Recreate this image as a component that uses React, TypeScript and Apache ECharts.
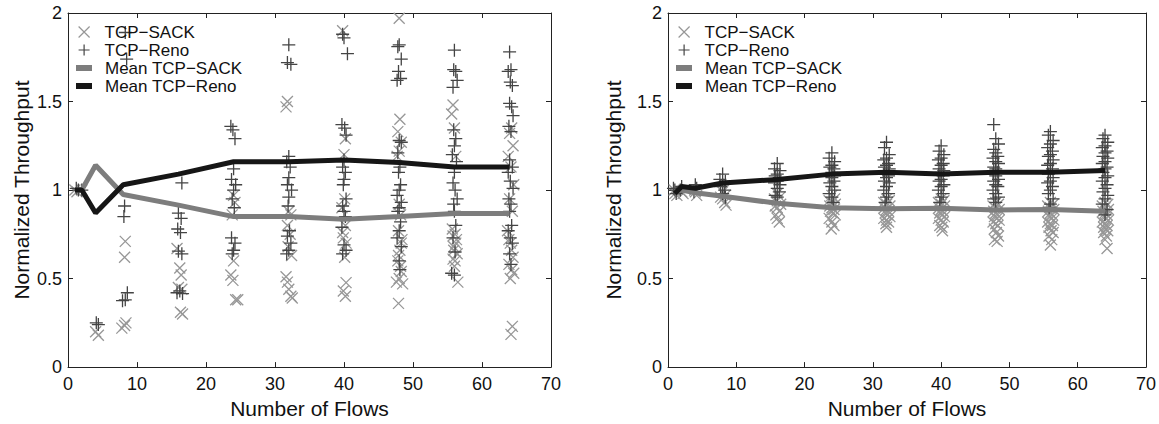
import React, { useEffect, useRef } from 'react';
import * as echarts from 'echarts';

const FONT = '"Liberation Sans", Arial, Helvetica, sans-serif';

const SACK = 'TCP\u2212SACK';
const RENO = 'TCP\u2212Reno';
const MEAN_SACK = 'Mean TCP\u2212SACK';
const MEAN_RENO = 'Mean TCP\u2212Reno';

const X_TITLE = 'Number of Flows';
const Y_TITLE = 'Normalized Throughput';

// mean curves
const meanFlows = [1, 2, 4, 8, 16, 24, 32, 40, 48, 56, 64];
const meanSackLeft = [1.0, 1.0, 1.14, 0.975, 0.915, 0.85, 0.85, 0.835, 0.85, 0.868, 0.868];
const meanRenoLeft = [1.0, 1.0, 0.87, 1.03, 1.09, 1.16, 1.16, 1.17, 1.155, 1.13, 1.13];
const meanSackRight = [0.99, 1.0, 0.985, 0.965, 0.925, 0.9, 0.895, 0.897, 0.887, 0.89, 0.88];
const meanRenoRight = [0.98, 1.02, 1.01, 1.04, 1.06, 1.09, 1.1, 1.09, 1.1, 1.1, 1.11];

// individual flows, left panel: [flows, normalized throughput]
const sackLeft = [
  [1, 1.0], [1.3, 0.99], [2, 1.0],
  [4, 0.2], [4.4, 0.18],
  [8.3, 0.71], [8.2, 0.62], [7.8, 0.22], [8.4, 0.25], [8.2, 0.235],
  [15.8, 0.67], [16.2, 0.56], [16.4, 0.52], [16, 0.45], [16.5, 0.44], [16.3, 0.31], [16.6, 0.3],
  [24.2, 0.93], [23.8, 0.86], [24, 0.6], [23.6, 0.52], [23.9, 0.49], [24.3, 0.38], [24.6, 0.38], [24, 0.97],
  [31.8, 1.5], [31.6, 1.47], [32, 0.88], [32.3, 0.86], [31.8, 0.8], [32.2, 0.75], [31.9, 0.68], [32.4, 0.63],
  [31.6, 0.51], [31.8, 0.48], [32, 0.44], [32.3, 0.4], [32.5, 0.39],
  [39.8, 1.9], [40.2, 1.29], [40, 1.2], [39.9, 0.73], [40.3, 0.7], [40.1, 0.62], [40.3, 0.477], [39.9, 0.43],
  [40.2, 0.4], [40.1, 0.95], [39.7, 0.9], [40.2, 0.8], [39.8, 0.76],
  [48, 1.97], [48.1, 1.4], [47.8, 1.33], [48.3, 1.27], [48, 1.22], [47.7, 1.19], [48.2, 0.86], [47.9, 0.77],
  [48.4, 0.72], [48.1, 0.66], [47.8, 0.6], [48.3, 0.54], [48, 0.5], [47.6, 0.48], [48.5, 0.47], [47.9, 0.36],
  [48, 0.92], [48.3, 0.7], [47.9, 0.63], [48.2, 0.57],
  [55.8, 1.48], [55.6, 1.43], [56, 1.35], [56.2, 1.19], [55.7, 0.78], [56.1, 0.75], [56.3, 0.72], [55.9, 0.68],
  [56.4, 0.64], [55.8, 0.61], [56, 0.57], [56.5, 0.48], [56.2, 0.7], [55.9, 0.66], [56.1, 0.6], [55.8, 0.74],
  [64.3, 1.35], [64, 1.32], [64.5, 1.25], [63.8, 1.19], [64.2, 1.13], [64.6, 1.03], [64, 0.95], [64.4, 0.88],
  [63.7, 0.77], [64.1, 0.7], [64.5, 0.62], [63.9, 0.58], [64.3, 0.55], [64.6, 0.53], [64.1, 0.5], [64.4, 0.23],
  [64.2, 0.185], [64.3, 0.66], [63.9, 0.72]
];
const renoLeft = [
  [1.2, 1.01], [1.5, 1.0], [2, 1.0],
  [4.1, 0.25], [4.4, 0.24],
  [8.3, 1.89], [8.5, 1.74], [8.2, 0.91], [8.1, 0.85], [8.6, 0.42], [8.3, 0.38], [7.9, 0.375],
  [16.5, 1.04], [16, 0.87], [16.4, 0.84], [15.9, 0.78], [16.3, 0.76], [16, 0.655], [16.5, 0.64], [16.2, 0.43],
  [15.8, 0.42], [16.6, 0.415],
  [23.6, 1.36], [23.9, 1.34], [24.2, 1.29], [24, 1.12], [23.7, 1.06], [24.3, 1.03], [24, 1.0], [23.8, 0.95],
  [24.1, 0.9], [23.7, 0.73], [24.2, 0.7], [24, 0.66], [23.8, 0.64],
  [32, 1.82], [31.8, 1.72], [32.3, 1.71], [32, 1.19], [31.7, 1.16], [32.2, 1.13], [32, 1.07], [31.8, 1.03],
  [32.4, 1.0], [32, 0.96], [31.9, 0.91], [32.1, 0.77], [31.8, 0.74], [32.3, 0.7], [32, 0.66], [31.7, 0.64],
  [39.8, 1.88], [40, 1.86], [40.5, 1.77], [39.7, 1.37], [40.1, 1.35], [40.3, 1.31], [40, 1.17], [39.8, 1.13],
  [40.2, 1.1], [40, 1.06], [39.9, 1.03], [40.3, 0.95], [39.8, 0.91], [40, 0.88], [40.2, 0.85], [39.7, 0.79],
  [40, 0.69], [40.3, 0.66], [39.8, 0.64],
  [48, 1.82], [47.8, 1.81], [48.3, 1.74], [47.9, 1.67], [48.2, 1.63], [47.7, 1.62], [48, 1.28], [48.3, 1.27],
  [47.8, 1.21], [48.1, 1.13], [47.9, 1.1], [48.2, 1.03], [48, 1.0], [47.7, 0.97], [48.3, 0.93], [48, 0.9],
  [47.8, 0.88], [48.2, 0.82], [48, 0.77], [47.7, 0.73], [48.3, 0.68], [48, 0.6], [48.1, 0.55],
  [56, 1.79], [55.9, 1.68], [56.2, 1.67], [56.4, 1.62], [55.8, 1.58], [55.9, 1.34], [56.2, 1.29], [56, 1.25],
  [55.7, 1.2], [56.3, 1.16], [56, 1.1], [55.8, 1.04], [56.1, 1.0], [56.4, 0.95], [55.9, 0.92], [56, 0.88],
  [56.2, 0.8], [55.8, 0.73], [56.1, 0.65], [55.6, 0.53], [56, 0.52],
  [64, 1.78], [64.2, 1.68], [63.8, 1.67], [64.1, 1.61], [64.4, 1.59], [64, 1.49], [64.3, 1.47], [64.5, 1.42],
  [63.9, 1.36], [64.2, 1.33], [64, 1.17], [64.4, 1.13], [63.8, 1.1], [64.1, 1.05], [64.5, 1.01], [63.9, 0.95],
  [64.2, 0.92], [64, 0.88], [64.3, 0.8], [63.8, 0.77], [64.1, 0.73], [64.4, 0.7], [64, 0.64], [64.2, 0.58]
];

// individual flows, right panel
const sackRight = [
  [1, 0.98], [1.3, 0.97], [0.9, 1.0], [2, 0.99], [2.2, 0.98],
  [4, 0.99], [4.2, 0.97], [3.9, 1.0],
  [8, 0.99], [8.4, 0.97], [7.7, 0.96], [8, 0.95], [8.3, 0.93], [8.5, 0.915],
  [16, 0.98], [16.4, 0.96], [15.6, 0.95], [16, 0.94], [16.5, 0.92], [15.7, 0.91], [16, 0.9], [16.3, 0.88],
  [15.8, 0.86], [16, 0.84], [16.3, 0.82],
  [24, 0.97], [24.4, 0.95], [23.6, 0.94], [24, 0.93], [24.5, 0.92], [23.7, 0.91], [24, 0.9], [24.3, 0.89],
  [23.8, 0.88], [24.2, 0.87], [24.5, 0.86], [23.6, 0.84], [24, 0.82], [24.3, 0.8], [23.9, 0.78],
  [32, 0.95], [32.4, 0.94], [31.6, 0.93], [32, 0.92], [32.5, 0.91], [31.7, 0.9], [32, 0.89], [32.3, 0.88],
  [31.8, 0.87], [32.2, 0.86], [32.5, 0.85], [31.6, 0.84], [32, 0.83], [32.3, 0.82], [31.9, 0.81], [32, 0.79],
  [40, 0.95], [40.4, 0.94], [39.6, 0.93], [40, 0.92], [40.5, 0.91], [39.7, 0.9], [40, 0.89], [40.3, 0.88],
  [39.8, 0.87], [40.2, 0.86], [40.5, 0.85], [39.6, 0.84], [40, 0.83], [40.3, 0.82], [39.8, 0.8], [40.1, 0.79],
  [40.2, 0.77],
  [48, 0.93], [48.4, 0.92], [47.6, 0.91], [48, 0.9], [48.5, 0.89], [47.7, 0.88], [48, 0.87], [48.3, 0.86],
  [47.8, 0.85], [48.2, 0.84], [48.5, 0.83], [47.6, 0.82], [48, 0.81], [48.3, 0.8], [47.8, 0.78], [48.1, 0.76],
  [48.4, 0.74], [47.8, 0.72], [48.2, 0.71],
  [56, 0.93], [56.4, 0.92], [55.6, 0.91], [56, 0.9], [56.5, 0.89], [55.7, 0.88], [56, 0.87], [56.3, 0.86],
  [55.8, 0.85], [56.2, 0.84], [56.5, 0.83], [55.6, 0.82], [56, 0.81], [56.3, 0.8], [55.8, 0.79], [56.1, 0.77],
  [56.4, 0.76], [55.8, 0.74], [56.2, 0.72], [56, 0.69],
  [64, 0.93], [64.4, 0.92], [63.6, 0.91], [64, 0.9], [64.5, 0.89], [63.7, 0.88], [64, 0.87], [64.3, 0.86],
  [63.8, 0.85], [64.2, 0.84], [64.5, 0.83], [63.6, 0.82], [64, 0.81], [64.3, 0.8], [63.8, 0.79], [64.1, 0.78],
  [64.4, 0.77], [63.8, 0.76], [64.2, 0.74], [64, 0.72], [64.3, 0.67]
];
const renoRight = [
  [1, 1.0], [1.2, 0.98], [0.8, 1.01], [2, 1.02], [1.8, 1.0],
  [4, 1.03], [4.2, 1.01], [3.8, 0.99],
  [8, 1.09], [7.6, 1.06], [8.4, 1.05], [8, 1.03], [7.7, 1.02], [8.3, 1.0], [8, 0.98], [8.4, 0.96],
  [16, 1.15], [15.6, 1.12], [16.4, 1.11], [16, 1.09], [15.7, 1.08], [16.3, 1.07], [16, 1.05], [15.6, 1.04],
  [16.4, 1.03], [16, 1.01], [16.3, 0.99], [15.7, 0.97], [16, 0.96],
  [24, 1.21], [23.6, 1.18], [24.4, 1.16], [24, 1.14], [23.7, 1.13], [24.3, 1.12], [24, 1.1], [23.6, 1.09],
  [24.4, 1.08], [24, 1.07], [24.3, 1.05], [23.7, 1.04], [24, 1.02], [24.4, 1.0], [23.6, 0.98], [24, 0.96],
  [24.2, 0.93],
  [32, 1.27], [31.7, 1.24], [32.4, 1.2], [32, 1.18], [31.6, 1.17], [32.3, 1.15], [32, 1.14], [31.7, 1.13],
  [32.4, 1.12], [32, 1.11], [31.6, 1.09], [32.3, 1.08], [32, 1.07], [31.7, 1.05], [32.4, 1.04], [32, 1.02],
  [31.6, 1.0], [32.3, 0.98], [32, 0.96], [31.8, 0.93],
  [40, 1.25], [39.7, 1.22], [40.4, 1.2], [40, 1.18], [39.6, 1.17], [40.3, 1.15], [40, 1.14], [39.7, 1.12],
  [40.4, 1.11], [40, 1.1], [39.6, 1.09], [40.3, 1.08], [40, 1.06], [39.7, 1.05], [40.4, 1.03], [40, 1.02],
  [39.6, 1.0], [40.3, 0.98], [40, 0.96], [39.8, 0.93],
  [47.7, 1.37], [48, 1.29], [48.4, 1.26], [47.7, 1.23], [48, 1.21], [48.3, 1.19], [47.6, 1.18], [48, 1.16],
  [48.4, 1.15], [47.7, 1.13], [48, 1.12], [48.3, 1.1], [47.6, 1.09], [48, 1.08], [48.4, 1.06], [47.7, 1.05],
  [48, 1.03], [48.3, 1.02], [47.6, 1.0], [48, 0.98], [48.4, 0.96], [47.7, 0.95], [48, 0.93],
  [56, 1.33], [55.7, 1.31], [56.4, 1.28], [56, 1.26], [55.6, 1.24], [56.3, 1.22], [56, 1.2], [55.7, 1.19],
  [56.4, 1.17], [56, 1.15], [55.6, 1.14], [56.3, 1.12], [56, 1.1], [55.7, 1.09], [56.4, 1.07], [56, 1.05],
  [55.6, 1.04], [56.3, 1.02], [56, 1.0], [55.7, 0.98], [56.4, 0.95], [56, 0.92], [55.8, 0.9],
  [64, 1.31], [63.7, 1.29], [64.4, 1.27], [64, 1.25], [63.6, 1.24], [64.3, 1.22], [64, 1.21], [63.7, 1.19],
  [64.4, 1.18], [64, 1.16], [63.6, 1.15], [64.3, 1.13], [64, 1.12], [63.7, 1.1], [64.4, 1.08], [64, 1.07],
  [63.6, 1.05], [64.3, 1.03], [64, 1.01], [63.7, 0.99], [64.4, 0.97], [64, 0.95], [63.6, 0.92], [64.3, 0.89],
  [64, 0.86]
];

const X_PATH = 'path://M0,0L10,10M10,0L0,10';
const PLUS_PATH = 'path://M5,0L5,10M0,5L10,5';

const SACK_COLOR = '#979797';
const RENO_COLOR = '#444444';
const MEAN_SACK_COLOR = '#7d7d7d';
const MEAN_RENO_COLOR = '#161616';
const AXIS_COLOR = '#222';

const GRID_LEFTS = [68, 668];
const GRID_TOP = 13;
const GRID_W = 483;
const GRID_H = 357;
const Y_NAME_GAPS = [36, 44];

export default function App() {
  const ref = useRef<HTMLDivElement>(null);

  useEffect(() => {
    if (!ref.current) return;
    const chart = echarts.init(ref.current, null, { renderer: 'svg' });

    const grids = GRID_LEFTS.map((left) => ({
      left, top: GRID_TOP, width: GRID_W, height: GRID_H, show: false,
    }));

    const xAxes: any[] = [];
    const yAxes: any[] = [];
    GRID_LEFTS.forEach((_, g) => {
      const common = {
        gridIndex: g, type: 'value', min: 0, max: 70, interval: 10,
        axisLine: { show: true, onZero: false, lineStyle: { color: AXIS_COLOR, width: 1 } },
        axisTick: { show: true, inside: true, length: 5, lineStyle: { color: AXIS_COLOR } },
        splitLine: { show: false },
      };
      xAxes.push({
        ...common, position: 'bottom',
        axisLabel: { show: true, fontSize: 18, fontFamily: FONT, color: '#111', margin: 8 },
        name: X_TITLE, nameLocation: 'middle', nameGap: 30,
        nameTextStyle: { fontSize: 21, fontFamily: FONT, color: '#111' },
      });
      xAxes.push({ ...common, position: 'top', axisLabel: { show: false } });
      const ycommon = {
        gridIndex: g, type: 'value', min: 0, max: 2, interval: 0.5,
        axisLine: { show: true, onZero: false, lineStyle: { color: AXIS_COLOR, width: 1 } },
        axisTick: { show: true, inside: true, length: 5, lineStyle: { color: AXIS_COLOR } },
        splitLine: { show: false },
      };
      yAxes.push({
        ...ycommon, position: 'left',
        axisLabel: { show: true, fontSize: 18, fontFamily: FONT, color: '#111', margin: 6 },
        name: Y_TITLE, nameLocation: 'middle', nameGap: Y_NAME_GAPS[g],
        nameTextStyle: { fontSize: 21, fontFamily: FONT, color: '#111' },
      });
      yAxes.push({ ...ycommon, position: 'right', axisLabel: { show: false } });
    });

    const panels = [
      { sack: sackLeft, reno: renoLeft, mSack: meanSackLeft, mReno: meanRenoLeft },
      { sack: sackRight, reno: renoRight, mSack: meanSackRight, mReno: meanRenoRight },
    ];

    const series: any[] = [];
    panels.forEach((p, g) => {
      const xi = g * 2;
      const yi = g * 2;
      series.push({
        type: 'scatter', name: SACK, xAxisIndex: xi, yAxisIndex: yi,
        symbol: X_PATH, symbolSize: 11, data: p.sack, z: 2,
        itemStyle: { color: 'rgba(0,0,0,0)', borderColor: SACK_COLOR, borderWidth: 1.3, opacity: 1 },
      });
      series.push({
        type: 'scatter', name: RENO, xAxisIndex: xi, yAxisIndex: yi,
        symbol: PLUS_PATH, symbolSize: 13, data: p.reno, z: 3,
        itemStyle: { color: 'rgba(0,0,0,0)', borderColor: RENO_COLOR, borderWidth: 1.3, opacity: 1 },
      });
      series.push({
        type: 'line', name: MEAN_SACK, xAxisIndex: xi, yAxisIndex: yi,
        data: meanFlows.map((f, i) => [f, p.mSack[i]]), showSymbol: false, z: 4,
        color: MEAN_SACK_COLOR, itemStyle: { color: MEAN_SACK_COLOR },
        lineStyle: { color: MEAN_SACK_COLOR, width: 5 },
      });
      series.push({
        type: 'line', name: MEAN_RENO, xAxisIndex: xi, yAxisIndex: yi,
        data: meanFlows.map((f, i) => [f, p.mReno[i]]), showSymbol: false, z: 5,
        color: MEAN_RENO_COLOR, itemStyle: { color: MEAN_RENO_COLOR },
        lineStyle: { color: MEAN_RENO_COLOR, width: 5 },
      });
    });

    const textStyle = (padLeft: number) => ({
      fontSize: 17, fontFamily: FONT, color: '#111', lineHeight: 18, padding: [0, 0, 0, padLeft],
    });
    const legends: any[] = [];
    GRID_LEFTS.forEach((gl) => {
      legends.push({
        left: gl + 10, top: 23, orient: 'vertical', itemWidth: 11, itemHeight: 11, itemGap: 0, padding: 0,
        selectedMode: false,
        data: [
          { name: SACK, icon: X_PATH, itemStyle: { color: 'rgba(0,0,0,0)', borderColor: SACK_COLOR, borderWidth: 1.2 } },
          { name: RENO, icon: PLUS_PATH, itemStyle: { color: 'rgba(0,0,0,0)', borderColor: RENO_COLOR, borderWidth: 1.2 } },
        ],
        textStyle: textStyle(10),
      });
      legends.push({
        left: gl + 8, top: 59, orient: 'vertical', itemWidth: 16, itemHeight: 6, itemGap: 0, padding: 0,
        selectedMode: false,
        data: [
          { name: MEAN_SACK, icon: 'rect', itemStyle: { color: MEAN_SACK_COLOR } },
          { name: MEAN_RENO, icon: 'rect', itemStyle: { color: MEAN_RENO_COLOR } },
        ],
        textStyle: textStyle(8),
      });
    });

    chart.setOption({
      animation: false,
      backgroundColor: '#fff',
      grid: grids,
      xAxis: xAxes,
      yAxis: yAxes,
      legend: legends,
      series,
    });

    return () => chart.dispose();
  }, []);

  return (
    <div
      ref={ref}
      style={{ position: 'absolute', left: 0, top: 0, width: 1159, height: 424, background: '#fff' }}
    />
  );
}
